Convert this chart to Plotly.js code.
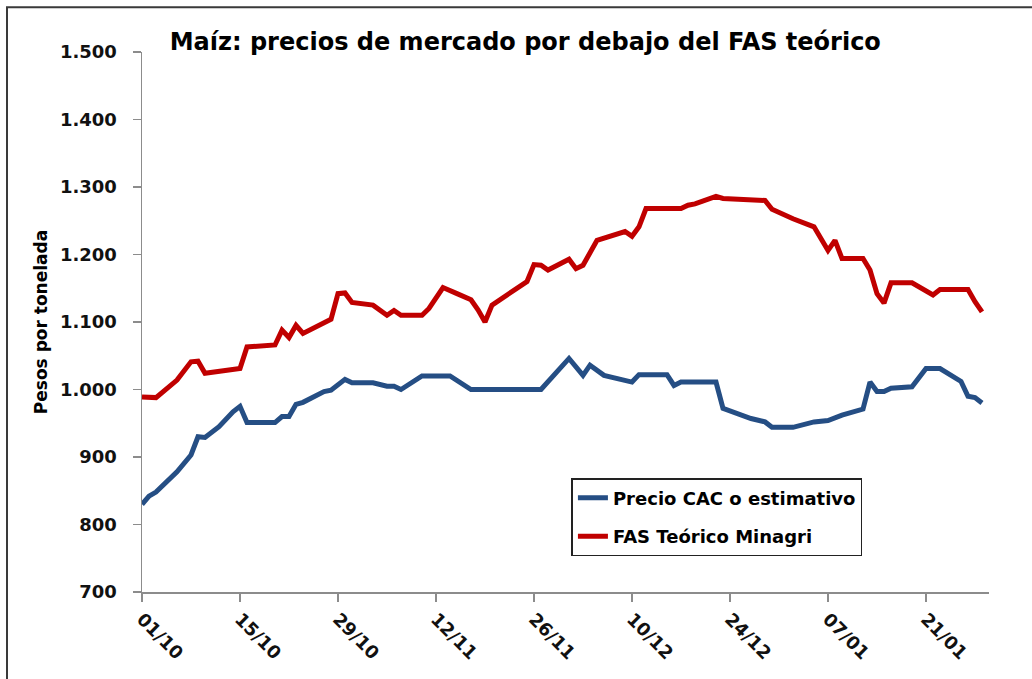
<!DOCTYPE html>
<html>
<head>
<meta charset="utf-8">
<script src="https://cdn.plot.ly/plotly-3.0.1.min.js"></script>
<style>html,body{margin:0;padding:0;background:#fff;}#chart{width:1032px;height:679px;}</style>
</head>
<body>
<div id="chart"></div>
<script>
// ---- Data ----
const chartTitle = "Maíz: precios de mercado por debajo del FAS teórico";
const yTitle = "Pesos por tonelada";
const seriesNames = ["Precio CAC o estimativo", "FAS Teórico Minagri"];

const cacDates = ["2012-10-01","2012-10-02","2012-10-03","2012-10-06","2012-10-08","2012-10-09","2012-10-10","2012-10-12","2012-10-14","2012-10-15","2012-10-16","2012-10-20","2012-10-21","2012-10-22","2012-10-23","2012-10-24","2012-10-27","2012-10-28","2012-10-30","2012-10-31","2012-11-03","2012-11-05","2012-11-06","2012-11-07","2012-11-10","2012-11-14","2012-11-17","2012-11-27","2012-12-01","2012-12-03","2012-12-04","2012-12-06","2012-12-10","2012-12-11","2012-12-15","2012-12-16","2012-12-17","2012-12-22","2012-12-23","2012-12-27","2012-12-29","2012-12-30","2013-01-02","2013-01-05","2013-01-07","2013-01-09","2013-01-12","2013-01-13","2013-01-14","2013-01-15","2013-01-16","2013-01-19","2013-01-21","2013-01-23","2013-01-26","2013-01-27","2013-01-28","2013-01-29"];
const cacValues = [830,842,848,878,903,930,929,945,967,975,951,951,960,960,978,981,997,999,1015,1010,1010,1005,1005,1000,1020,1020,1000,1000,1046,1021,1036,1021,1011,1022,1022,1006,1011,1011,972,957,952,944,944,952,954,962,971,1011,997,997,1002,1004,1031,1031,1012,990,988,980];

const fasDates = ["2012-10-01","2012-10-03","2012-10-06","2012-10-08","2012-10-09","2012-10-10","2012-10-15","2012-10-16","2012-10-20","2012-10-21","2012-10-22","2012-10-23","2012-10-24","2012-10-27","2012-10-28","2012-10-29","2012-10-30","2012-10-31","2012-11-03","2012-11-05","2012-11-06","2012-11-07","2012-11-10","2012-11-11","2012-11-13","2012-11-15","2012-11-17","2012-11-18","2012-11-19","2012-11-20","2012-11-25","2012-11-26","2012-11-27","2012-11-28","2012-12-01","2012-12-02","2012-12-03","2012-12-05","2012-12-07","2012-12-09","2012-12-10","2012-12-11","2012-12-12","2012-12-17","2012-12-18","2012-12-19","2012-12-22","2012-12-23","2012-12-29","2012-12-30","2013-01-02","2013-01-05","2013-01-07","2013-01-08","2013-01-09","2013-01-12","2013-01-13","2013-01-14","2013-01-15","2013-01-16","2013-01-19","2013-01-22","2013-01-23","2013-01-27","2013-01-28","2013-01-29"];
const fasValues = [989,988,1014,1041,1042,1024,1031,1063,1066,1088,1077,1095,1083,1100,1104,1142,1143,1129,1125,1110,1117,1110,1110,1120,1151,1142,1133,1118,1100,1125,1160,1185,1184,1177,1193,1179,1184,1221,1228,1234,1227,1241,1268,1268,1273,1275,1286,1283,1280,1267,1253,1241,1206,1221,1194,1194,1177,1142,1128,1158,1158,1140,1148,1148,1130,1115];

const xRange = ["2012-10-01","2013-01-30"];
const xTick0 = "2012-10-01";
const yRange = [700, 1500];

// ---- Chart ----
const FONT = "DejaVu Sans, Liberation Sans, Arial, sans-serif";
const traces = [
  {x: cacDates, y: cacValues, name: seriesNames[0], type: "scatter", mode: "lines",
   line: {color: "#254E84", width: 5}, legendgroup: "a"},
  {x: fasDates, y: fasValues, name: seriesNames[1], type: "scatter", mode: "lines",
   line: {color: "#C00000", width: 5}, legendgroup: "b"}
];

const layout = {
  width: 1032, height: 679,
  margin: {l: 142, r: 43, t: 52, b: 87},
  paper_bgcolor: "#ffffff", plot_bgcolor: "#ffffff",
  separators: ",.",
  font: {family: FONT, color: "#111111"},
  showlegend: true,
  title: {text: chartTitle, font: {family: FONT, size: 24, color: "#000000", weight: "bold"},
          x: 0.509, xref: "container", xanchor: "center", y: 0.938, yref: "container", yanchor: "middle"},
  xaxis: {
    type: "date", range: xRange, tick0: xTick0, dtick: 14 * 86400000,
    tickformat: "%d/%m", tickangle: 45,
    showgrid: false, zeroline: false,
    showline: true, linecolor: "#8c8c8c", linewidth: 1.5,
    ticks: "outside", ticklen: 8, tickwidth: 1.5, tickcolor: "#8c8c8c",
    tickfont: {family: FONT, size: 18, color: "#111111", weight: "bold"},
    fixedrange: true
  },
  yaxis: {
    range: yRange, dtick: 100, tickformat: ",d",
    showgrid: false, zeroline: false,
    showline: true, linecolor: "#8c8c8c", linewidth: 1.5,
    ticks: "outside", ticklen: 8, tickwidth: 1.5, tickcolor: "#8c8c8c",
    ticklabelstandoff: 12,
    tickfont: {family: FONT, size: 18, color: "#111111", weight: "bold"},
    title: {text: yTitle, standoff: 8, font: {family: FONT, size: 17, color: "#000000", weight: "bold"}},
    fixedrange: true
  },
  legend: {
    x: 0.507, y: 0.211, xanchor: "left", yanchor: "top",
    bgcolor: "#ffffff", bordercolor: "#222222", borderwidth: 1.5,
    font: {family: FONT, size: 18, color: "#000000", weight: "bold"},
    traceorder: "grouped", tracegroupgap: 12, itemwidth: 30
  },
  shapes: [
    {type: "rect", xref: "paper", yref: "paper",
     x0: (7 - 142) / 847, x1: 2, y0: -1, y1: (592.3 - 7) / 540.6,
     line: {color: "#3a3a3a", width: 2}, fillcolor: "rgba(0,0,0,0)", layer: "above"}
  ]
};

Plotly.newPlot("chart", traces, layout, {displayModeBar: false, staticPlot: true});
</script>
</body>
</html>
